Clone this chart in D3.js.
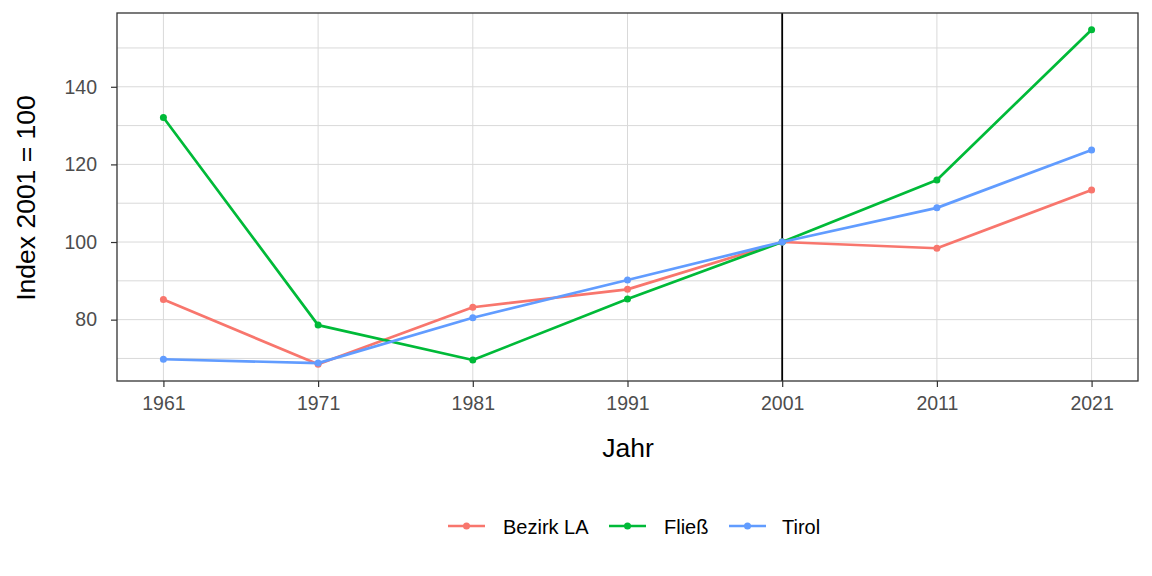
<!DOCTYPE html>
<html>
<head>
<meta charset="utf-8">
<script src="https://cdn.jsdelivr.net/npm/d3@7"></script>
<style>
  html, body { margin: 0; padding: 0; background: #fff; }
  svg { display: block; font-family: "Liberation Sans", Arial, sans-serif; }
</style>
</head>
<body>
<svg id="chart" width="1152" height="576"></svg>
<script>
const years = [1961, 1971, 1981, 1991, 2001, 2011, 2021];
const seriesNames = ["Bezirk LA", "Fließ", "Tirol"];
const bezirkLA = [85.2, 68.5, 83.2, 87.8, 100, 98.4, 113.4];
const fliess = [132.1, 78.6, 69.6, 85.3, 100, 116.0, 154.7];
const tirol = [69.8, 68.8, 80.5, 90.2, 100, 108.8, 123.7];
const colors = ["#F8766D", "#00BA38", "#619CFF"];
const xTicks = [1961, 1971, 1981, 1991, 2001, 2011, 2021];
const yTicks = [80, 100, 120, 140];
const yMinor = [70, 90, 110, 130, 150];
const refYear = 2001;

const seriesValues = [bezirkLA, fliess, tirol];
const series = seriesNames.map((name, i) => ({
  name, color: colors[i],
  points: years.map((y, j) => ({ x: y, v: seriesValues[i][j] }))
}));

const svg = d3.select("#chart");
const L = 117, R = 1138, T = 13, B = 381;
const FONT = "'Liberation Sans', Arial, sans-serif";

const allV = seriesValues.flat();
const vmin = d3.min(allV), vmax = d3.max(allV);
const vpad = (vmax - vmin) * 0.05;
const xpad = (d3.max(years) - d3.min(years)) * 0.05;

const x = d3.scaleLinear().domain([d3.min(years) - xpad, d3.max(years) + xpad]).range([L, R]);
const y = d3.scaleLinear().domain([vmin - vpad, vmax + vpad]).range([B, T]);

// grid
const grid = svg.append("g");
grid.selectAll(".gy").data(yMinor.concat(yTicks)).enter().append("line")
  .attr("x1", L).attr("x2", R).attr("y1", d => y(d)).attr("y2", d => y(d))
  .attr("stroke", "#d9d9d9").attr("stroke-width", 1);
grid.selectAll(".gx").data(xTicks).enter().append("line")
  .attr("y1", T).attr("y2", B).attr("x1", d => x(d)).attr("x2", d => x(d))
  .attr("stroke", "#d9d9d9").attr("stroke-width", 1);

// reference line
svg.append("line")
  .attr("x1", x(refYear)).attr("x2", x(refYear)).attr("y1", T).attr("y2", B)
  .attr("stroke", "#000").attr("stroke-width", 1.8);

// lines
const line = d3.line().x(d => x(d.x)).y(d => y(d.v));
series.forEach(s => {
  svg.append("path").datum(s.points)
    .attr("d", line).attr("fill", "none")
    .attr("stroke", s.color).attr("stroke-width", 2.7)
    .attr("stroke-linejoin", "round");
  svg.selectAll(null).data(s.points).enter().append("circle")
    .attr("cx", d => x(d.x)).attr("cy", d => y(d.v)).attr("r", 3.5)
    .attr("fill", s.color);
});

// panel border
svg.append("rect").attr("x", L).attr("y", T).attr("width", R - L).attr("height", B - T)
  .attr("fill", "none").attr("stroke", "#333333").attr("stroke-width", 1.3);

// axes
const yAxis = d3.axisLeft(y).tickValues(yTicks).tickSize(6).tickPadding(14).tickFormat(d3.format("d"));
const ya = svg.append("g").attr("transform", `translate(${L},0)`).call(yAxis);
ya.select(".domain").remove();
ya.selectAll(".tick line").attr("stroke", "#333333").attr("stroke-width", 1.2);
ya.selectAll(".tick text").attr("fill", "#4d4d4d").style("font-size", "19.5px").style("font-family", FONT);

const xAxis = d3.axisBottom(x).tickValues(xTicks).tickSize(6).tickPadding(9).tickFormat(d3.format("d"));
const xa = svg.append("g").attr("transform", `translate(0,${B})`).call(xAxis);
xa.select(".domain").remove();
xa.selectAll(".tick line").attr("stroke", "#333333").attr("stroke-width", 1.2);
xa.selectAll(".tick text").attr("fill", "#4d4d4d").style("font-size", "19.5px").style("font-family", FONT);

// titles
svg.append("text").attr("x", (L + R) / 2 + 0.5).attr("y", 457).attr("text-anchor", "middle")
  .style("font-size", "26.5px").style("font-family", FONT).attr("fill", "#000").text("Jahr");
svg.append("text").attr("transform", `translate(35,198) rotate(-90)`)
  .attr("text-anchor", "middle").style("font-size", "26.5px").style("font-family", FONT)
  .attr("fill", "#000").text("Index 2001 = 100");

// legend
const legendItems = [
  { name: seriesNames[0], color: colors[0], kx: 448, tx: 503 },
  { name: seriesNames[1], color: colors[1], kx: 609, tx: 664 },
  { name: seriesNames[2], color: colors[2], kx: 729, tx: 782 }
];
const lg = svg.append("g");
legendItems.forEach(it => {
  lg.append("line").attr("x1", it.kx).attr("x2", it.kx + 37).attr("y1", 526).attr("y2", 526)
    .attr("stroke", it.color).attr("stroke-width", 2.7);
  lg.append("circle").attr("cx", it.kx + 18.5).attr("cy", 526).attr("r", 3.5).attr("fill", it.color);
  lg.append("text").attr("x", it.tx).attr("y", 534).style("font-size", "20px").style("font-family", FONT)
    .attr("fill", "#000").text(it.name);
});
</script>
</body>
</html>
